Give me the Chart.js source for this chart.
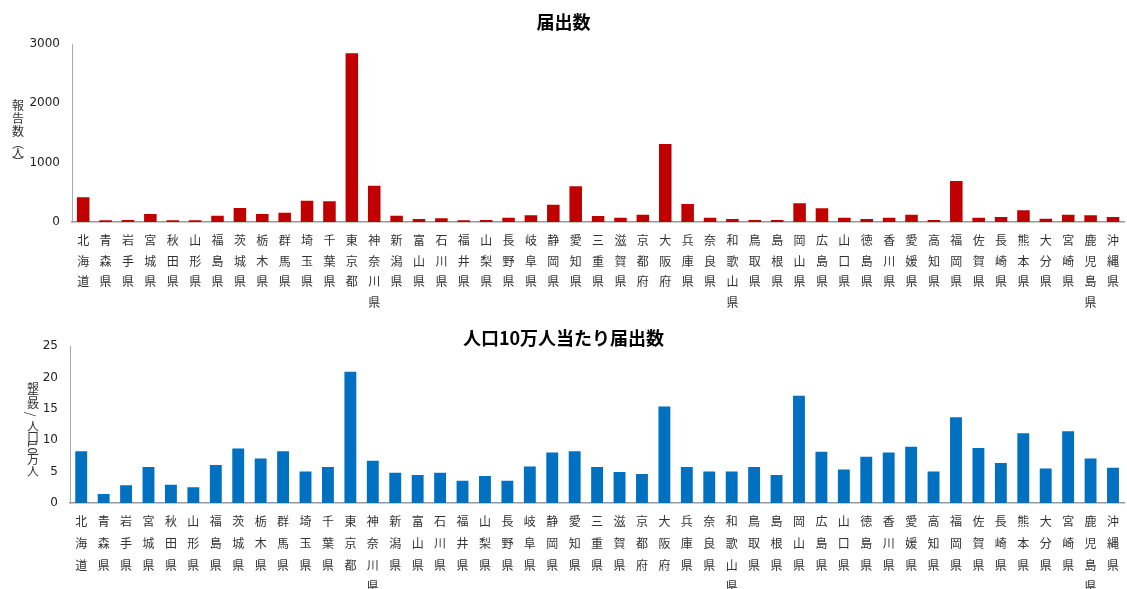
<!DOCTYPE html>
<html>
<head>
<meta charset="utf-8">
<script src="https://cdn.jsdelivr.net/npm/chart.js@4"></script>
<style>
  body { margin: 0; background: #fff; }
  #wrap { position: relative; width: 1127px; height: 589px; overflow: hidden; }
  canvas { position: absolute; left: 0; }
  #c1 { top: 0; }
  #c2 { top: 320px; }
  .ytitle {
    position: absolute;
    width: 14px;
    font-family: "Noto Sans CJK JP", sans-serif;
    font-size: 12px;
    color: #333;
    text-align: center;
  }
  .ytitle span { display: block; }
  .ytitle span.rot { transform: rotate(90deg); }
  .ytitle span.sq { transform: scaleY(0.8); }
  #yt1 { left: 11px; top: 98px; }
  #yt2 { left: 26px; top: 381px; }
</style>
</head>
<body>
<div id="wrap">
  <canvas id="c1" width="1127" height="320"></canvas>
  <canvas id="c2" width="1127" height="269"></canvas>
  <div class="ytitle" id="yt1"><span style="line-height:13px">報</span><span style="line-height:13px">告</span><span style="line-height:14px">数</span><span style="line-height:9px">︵</span><span style="line-height:11px">人</span><span style="line-height:8px">︶</span></div>
  <div class="ytitle" id="yt2"><span class="sq" style="line-height:9px">報</span><span class="sq" style="line-height:9px">告</span><span class="sq" style="line-height:9px">数</span><span class="rot" style="line-height:12px;margin-left:-4px">/</span><span style="line-height:12px">人</span><span style="line-height:10px">口</span><span class="rot" style="line-height:11px">10</span><span style="line-height:11px">万</span><span style="line-height:13px">人</span></div>
</div>
<script>
// 都道府県
var prefectures = ['北海道','青森県','岩手県','宮城県','秋田県','山形県','福島県','茨城県','栃木県','群馬県',
  '埼玉県','千葉県','東京都','神奈川県','新潟県','富山県','石川県','福井県','山梨県','長野県',
  '岐阜県','静岡県','愛知県','三重県','滋賀県','京都府','大阪府','兵庫県','奈良県','和歌山県',
  '鳥取県','島根県','岡山県','広島県','山口県','徳島県','香川県','愛媛県','高知県','福岡県',
  '佐賀県','長崎県','熊本県','大分県','宮崎県','鹿児島県','沖縄県'];

// 届出数
var reports = [416, 28, 34, 135, 28, 28, 107, 236, 135, 157,
  360, 348, 2843, 612, 107, 51, 62, 28, 34, 73,
  112, 292, 601, 101, 73, 124, 1315, 303, 73, 51,
  34, 34, 315, 230, 73, 51, 73, 124, 34, 691,
  73, 84, 197, 56, 124, 112, 84];

// 人口10万人当たり届出数
var per100k = [8.26, 1.43, 2.81, 5.72, 2.91, 2.49, 6.04, 8.69, 7.10, 8.26,
  5.03, 5.72, 20.9, 6.73, 4.82, 4.45, 4.82, 3.55, 4.29, 3.55,
  5.83, 8.05, 8.26, 5.72, 4.93, 4.61, 15.36, 5.72, 5.03, 5.03,
  5.72, 4.45, 17.06, 8.16, 5.35, 7.36, 8.05, 8.95, 5.03, 13.67,
  8.74, 6.36, 11.12, 5.51, 11.44, 7.10, 5.61];

var titles = ['届出数', '人口10万人当たり届出数'];
var yMax = [3000, 25];
var yStep = [1000, 5];

// vertical labels: one character per line
var labels = prefectures.map(function (p) { return p.split(''); });

function makeChart(id, title, values, color, max, step, opts) {
  var ctx = document.getElementById(id).getContext('2d');
  return new Chart(ctx, {
    type: 'bar',
    data: {
      labels: labels,
      datasets: [{
        data: values,
        backgroundColor: color,
        borderWidth: 0,
        barPercentage: opts.barPct,
        categoryPercentage: 1
      }]
    },
    options: {
      responsive: false,
      animation: false,
      layout: { padding: 0 },
      plugins: {
        legend: { display: false },
        tooltip: { enabled: false },
        title: {
          display: true,
          text: title,
          color: '#000',
          font: { family: '"Noto Sans CJK JP", sans-serif', size: 18, weight: 'bold', lineHeight: 1 },
          padding: { top: opts.titleTop, bottom: opts.titleBottom }
        }
      },
      scales: {
        x: {
          grid: { display: false, drawTicks: false },
          border: { display: true, color: '#999', width: 1.5 },
          ticks: {
            autoSkip: false,
            maxRotation: 0,
            minRotation: 0,
            padding: 8,
            color: '#333',
            font: { family: '"Noto Sans CJK JP", sans-serif', size: 12, lineHeight: opts.lineH }
          },
          afterFit: function (scale) { scale.height = opts.xHeight; }
        },
        y: {
          min: 0,
          max: max,
          grid: { display: false, drawTicks: false },
          border: { display: true, color: '#aaa', width: 1 },
          ticks: {
            stepSize: step,
            padding: 12,
            color: '#222',
            font: { family: '"DejaVu Sans", sans-serif', size: 12 },
            callback: function (v) { return String(v); }
          },
          afterFit: function (scale) { scale.width = opts.yWidth; }
        }
      }
    }
  });
}

makeChart('c1', titles[0], reports, '#C00000', yMax[0], yStep[0],
  { barPct: 0.56, titleTop: 13, titleBottom: 13, xHeight: 98, yWidth: 72, lineH: 1.72 });
makeChart('c2', titles[1], per100k, '#0070C0', yMax[1], yStep[1],
  { barPct: 0.53, titleTop: 9, titleBottom: -1, xHeight: 86, yWidth: 70, lineH: 1.8 });
</script>
</body>
</html>
